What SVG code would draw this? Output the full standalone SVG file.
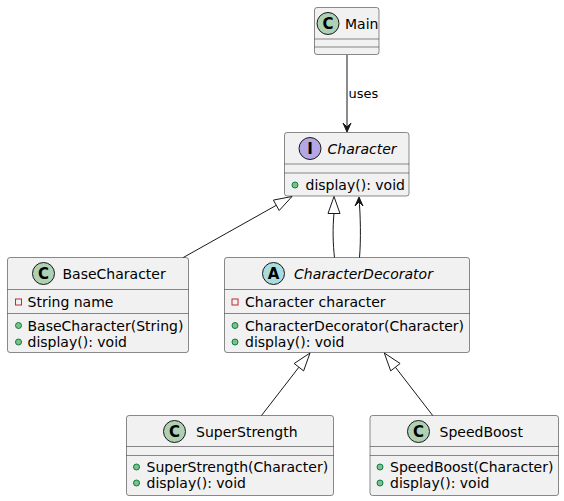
<svg xmlns="http://www.w3.org/2000/svg" width="564" height="501" viewBox="0 0 564 501">
<style>
.box{fill:#F1F1F1;stroke:#181818;stroke-width:0.5}
.sep{stroke:#181818;stroke-width:0.5}
.t{font-family:"DejaVu Sans",sans-serif;font-size:14px;fill:#000}
.it{font-style:italic}
.ltr{font-family:"DejaVu Sans",sans-serif;font-size:15px;font-weight:bold;fill:#000;text-anchor:middle}
.ci{stroke:#181818;stroke-width:1}
.pub{fill:#84BE84;stroke:#038048;stroke-width:1}
.priv{fill:none;stroke:#C82930;stroke-width:1}
.edge{fill:none;stroke:#181818;stroke-width:1}
.tri{fill:#FFFFFF;stroke:#181818;stroke-width:1}
.lbl{font-family:"DejaVu Sans",sans-serif;font-size:13px;fill:#000}
</style>
<g id="Main">
<rect class="box" x="314.5" y="7.5" width="64.5" height="47" rx="2.5"/>
<line class="sep" x1="314.5" y1="39" x2="379" y2="39"/>
<line class="sep" x1="314.5" y1="47" x2="379" y2="47"/>
<circle class="ci" cx="328" cy="23.5" r="11" fill="#ADD1B2"/>
<text class="ltr" x="328" y="28.8">C</text>
<text class="t" x="345" y="28.5">Main</text>
</g>
<g id="Character">
<rect class="box" x="284.5" y="132.5" width="124.5" height="63.5" rx="2.5"/>
<line class="sep" x1="284.5" y1="164" x2="409" y2="164"/>
<line class="sep" x1="284.5" y1="173" x2="409" y2="173"/>
<circle class="ci" cx="310" cy="148.5" r="11" fill="#B4A7E5"/>
<text class="ltr" x="310" y="153.8">I</text>
<text class="t it" x="327.5" y="153.5">Character</text>
<circle class="pub" cx="295" cy="185" r="3"/>
<text class="t" x="305.5" y="189.5">display(): void</text>
</g>
<g id="BaseCharacter">
<rect class="box" x="7.5" y="257.5" width="181" height="95" rx="2.5"/>
<line class="sep" x1="7.5" y1="289.5" x2="188.5" y2="289.5"/>
<line class="sep" x1="7.5" y1="313.5" x2="188.5" y2="313.5"/>
<circle class="ci" cx="43.5" cy="273.5" r="11" fill="#ADD1B2"/>
<text class="ltr" x="43.5" y="278.8">C</text>
<text class="t" x="62.5" y="278.5">BaseCharacter</text>
<rect class="priv" x="15.5" y="299" width="6" height="6"/>
<text class="t" x="27.5" y="306.5">String name</text>
<circle class="pub" cx="18.5" cy="325.5" r="3"/>
<text class="t" x="27.5" y="330.5">BaseCharacter(String)</text>
<circle class="pub" cx="18.5" cy="342" r="3"/>
<text class="t" x="27.5" y="347">display(): void</text>
</g>
<g id="CharacterDecorator">
<rect class="box" x="224.5" y="257.5" width="245" height="95" rx="2.5"/>
<line class="sep" x1="224.5" y1="289.5" x2="469.5" y2="289.5"/>
<line class="sep" x1="224.5" y1="313.5" x2="469.5" y2="313.5"/>
<circle class="ci" cx="273.5" cy="273.5" r="11" fill="#A9DCDF"/>
<text class="ltr" x="273.5" y="278.8">A</text>
<text class="t it" x="294" y="278.5">CharacterDecorator</text>
<rect class="priv" x="232" y="299" width="6" height="6"/>
<text class="t" x="245" y="306.5">Character character</text>
<circle class="pub" cx="235" cy="325.5" r="3"/>
<text class="t" x="245" y="330.5">CharacterDecorator(Character)</text>
<circle class="pub" cx="235" cy="342" r="3"/>
<text class="t" x="245" y="347">display(): void</text>
</g>
<g id="SuperStrength">
<rect class="box" x="126.5" y="415.5" width="207" height="80" rx="2.5"/>
<line class="sep" x1="126.5" y1="446.5" x2="333.5" y2="446.5"/>
<line class="sep" x1="126.5" y1="455.5" x2="333.5" y2="455.5"/>
<circle class="ci" cx="174.5" cy="431.5" r="11" fill="#ADD1B2"/>
<text class="ltr" x="174.5" y="436.8">C</text>
<text class="t" x="196" y="436.5">SuperStrength</text>
<circle class="pub" cx="136.5" cy="467" r="3"/>
<text class="t" x="146.5" y="472">SuperStrength(Character)</text>
<circle class="pub" cx="136.5" cy="483" r="3"/>
<text class="t" x="146.5" y="488">display(): void</text>
</g>
<g id="SpeedBoost">
<rect class="box" x="370" y="415.5" width="188.5" height="80" rx="2.5"/>
<line class="sep" x1="370" y1="446.5" x2="558.5" y2="446.5"/>
<line class="sep" x1="370" y1="455.5" x2="558.5" y2="455.5"/>
<circle class="ci" cx="418.5" cy="431.5" r="11" fill="#ADD1B2"/>
<text class="ltr" x="418.5" y="436.8">C</text>
<text class="t" x="439.5" y="436.5">SpeedBoost</text>
<circle class="pub" cx="380" cy="467" r="3"/>
<text class="t" x="390" y="472">SpeedBoost(Character)</text>
<circle class="pub" cx="380" cy="483" r="3"/>
<text class="t" x="390" y="488">display(): void</text>
</g>
<g id="connectors">
<path class="edge" d="M347,55 L347,131"/>
<polygon points="343,123 347,132 351,123 347,127" fill="#181818" stroke="#181818" stroke-width="1"/>
<text class="lbl" x="348.5" y="98">uses</text>
<path class="edge" d="M183.3,257.5 L276.3,205.3"/>
<polygon class="tri" points="292,196.5 279.2,210.5 273.4,200.1"/>
<path class="edge" d="M334.5,257.5 C333,245 332.5,228 334,213.5"/>
<polygon class="tri" points="334,196.5 328,213.5 340,213.5"/>
<path class="edge" d="M359.5,257.5 C361,240 360.5,215 359,198"/>
<polygon points="355,206 359,197 363,206 359,202" fill="#181818" stroke="#181818" stroke-width="1"/>
<path class="edge" d="M261.5,415.5 L298.9,367.2"/>
<polygon class="tri" points="310,353 303.6,370.9 294.2,363.5"/>
<path class="edge" d="M432.7,415.5 L395.4,367.2"/>
<polygon class="tri" points="384.3,353 400.1,363.5 390.7,370.9"/>
</g>
</svg>
